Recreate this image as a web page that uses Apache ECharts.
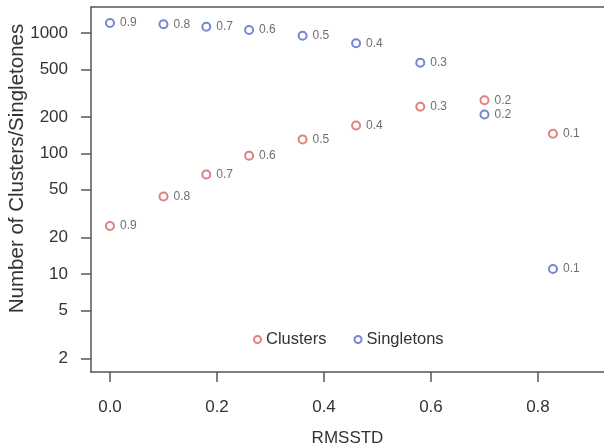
<!DOCTYPE html>
<html>
<head>
<meta charset="utf-8">
<script src="https://cdn.jsdelivr.net/npm/echarts@6/dist/echarts.min.js"></script>
<style>
html,body{margin:0;padding:0;background:#fff;}
#chart{width:604px;height:447px;}
</style>
</head>
<body>
<div id="chart"></div>
<script>
// RMSSTD positions
const rmsstd = [0.0, 0.1, 0.18, 0.26, 0.36, 0.46, 0.58, 0.70, 0.828];
// point labels (threshold)
const pointLabels = ['0.9', '0.8', '0.7', '0.6', '0.5', '0.4', '0.3', '0.2', '0.1'];
// counts
const clusters = [25, 44, 67, 96, 131, 171, 244, 277, 146];
const singletons = [1211, 1181, 1128, 1059, 950, 821, 567, 211, 11];
// tick values
const xTicks = [0, 0.2, 0.4, 0.6, 0.8];
const yTicks = [2, 5, 10, 20, 50, 100, 200, 500, 1000];

const red = '#d9605f';
const blue = '#5566c8';
const axisCol = '#555';
const font = 'Liberation Sans, Arial, Helvetica, sans-serif';

function pts(vals) {
  return rmsstd.map((x, i) => [x, vals[i], pointLabels[i]]);
}

const chart = echarts.init(document.getElementById('chart'));

function makeSeries(name, vals, color) {
  return {
    name: name,
    type: 'scatter',
    symbol: 'emptyCircle',
    symbolSize: 8,
    itemStyle: { color: color, borderColor: color, borderWidth: 1.5 },
    label: {
      show: true,
      position: 'right',
      distance: 5,
      formatter: p => p.value[2],
      fontSize: 12,
      fontFamily: font,
      color: '#4a4a4a'
    },
    data: pts(vals)
  };
}

const xRange = { min: -0.0355, max: 0.9234 };

chart.setOption({
  animation: false,
  grid: { left: 91, right: 0, top: 7, bottom: 75, outerBoundsMode: 'none', containLabel: false },
  legend: {
    left: 248, top: 326,
    itemWidth: 7, itemHeight: 7, itemGap: 27,
    itemStyle: { borderWidth: 1.3 },
    textStyle: { fontSize: 16.5, fontFamily: font, color: '#333' },
    data: ['Clusters', 'Singletons']
  },
  xAxis: [{
    type: 'value',
    min: xRange.min, max: xRange.max,
    name: 'RMSSTD', nameLocation: 'middle', nameGap: 58, nameMoveOverlap: false,
    nameTextStyle: { fontSize: 17, fontFamily: font, color: '#333' },
    splitLine: { show: false },
    axisLine: { show: true, onZero: false, lineStyle: { color: axisCol, width: 1.5 } },
    axisTick: { show: true, length: 10, lineStyle: { color: axisCol, width: 1.5 }, customValues: xTicks },
    axisLabel: {
      fontSize: 17, fontFamily: font, color: '#333', margin: 27,
      customValues: xTicks,
      formatter: v => v.toFixed(1)
    }
  }, {
    // top frame line
    type: 'value', position: 'top',
    min: xRange.min, max: xRange.max,
    splitLine: { show: false },
    axisLine: { show: true, onZero: false, lineStyle: { color: axisCol, width: 1.5 } },
    axisTick: { show: false },
    axisLabel: { show: false }
  }],
  yAxis: {
    type: 'log',
    logBase: 10,
    min: 1.538, max: 1644,
    name: 'Number of Clusters/Singletones', nameLocation: 'middle', nameGap: 63, nameMoveOverlap: false,
    nameTextStyle: { fontSize: 20.5, fontFamily: font, color: '#333', padding: [0, 0, 0, 42] },
    splitLine: { show: false },
    axisLine: { show: true, onZero: false, lineStyle: { color: axisCol, width: 1.5 } },
    axisTick: { show: true, length: 10, lineStyle: { color: axisCol, width: 1.5 }, customValues: yTicks },
    axisLabel: {
      fontSize: 17, fontFamily: font, color: '#333', margin: 23,
      customValues: yTicks,
      formatter: v => String(v)
    }
  },
  series: [
    makeSeries('Clusters', clusters, red),
    makeSeries('Singletons', singletons, blue)
  ]
});
</script>
</body>
</html>
